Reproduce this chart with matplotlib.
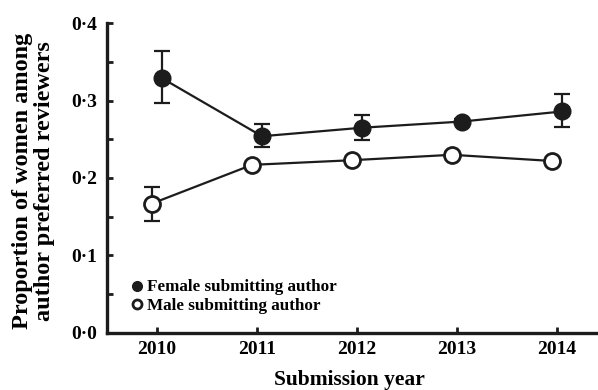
import matplotlib
matplotlib.use("Agg")
import matplotlib.pyplot as plt
from matplotlib.lines import Line2D
from matplotlib.ticker import FuncFormatter, MultipleLocator

# proportions of women among preferred reviewers, by submitting author gender
years = [2010, 2011, 2012, 2013, 2014]
female = [0.329, 0.254, 0.265, 0.273, 0.286]
female_lo = [0.297, 0.240, 0.249, 0.270, 0.266]
female_hi = [0.364, 0.270, 0.281, 0.276, 0.308]
male = [0.167, 0.217, 0.223, 0.230, 0.222]
male_lo = [0.145, 0.214, 0.220, 0.227, 0.219]
male_hi = [0.189, 0.220, 0.226, 0.233, 0.225]

plt.rcParams['font.family'] = ['Liberation Serif', 'DejaVu Serif']
plt.rcParams['font.weight'] = 'bold'
ink = '#1c1c1c'

fig = plt.figure(figsize=(5.98, 3.90), dpi=100)
ax = fig.add_axes([107 / 598, 57.3 / 390, 491 / 598, 309.4 / 390])

dx = 0.05
xf = [y + dx for y in years]
xm = [y - dx for y in years]

# error bars sit under the markers
ax.errorbar(xf, female,
            yerr=[[f - lo for f, lo in zip(female, female_lo)],
                  [hi - f for f, hi in zip(female, female_hi)]],
            fmt='none', ecolor=ink, elinewidth=1.6, capsize=5.8, capthick=1.6, zorder=2)
ax.errorbar(xm, male,
            yerr=[[m - lo for m, lo in zip(male, male_lo)],
                  [hi - m for m, hi in zip(male, male_hi)]],
            fmt='none', ecolor=ink, elinewidth=1.6, capsize=5.8, capthick=1.6, zorder=2)

ax.plot(xf, female, '-o', color=ink, lw=1.6, ms=12, mfc=ink, mec=ink, zorder=3)
ax.plot(xm, male, '-o', color=ink, lw=1.6, ms=11.5, mfc='white', mec=ink, mew=2.0, zorder=3)

ax.set_xlim(2009.5, 2014.41)
ax.set_ylim(0, 0.4)
ax.set_xticks(years)
ax.yaxis.set_major_locator(MultipleLocator(0.1))
ax.yaxis.set_minor_locator(MultipleLocator(0.05))
ax.yaxis.set_major_formatter(FuncFormatter(lambda v, p: f"{v:.1f}".replace('.', '\u00b7')))

for s in ['top', 'right']:
    ax.spines[s].set_visible(False)
for s in ['left', 'bottom']:
    ax.spines[s].set_linewidth(2.4)
    ax.spines[s].set_color(ink)
    ax.spines[s].set_capstyle('projecting')

ax.tick_params(which='both', direction='in', length=4.5, width=2.0, color=ink)
ax.tick_params(axis='y', labelsize=14, pad=7)
ax.tick_params(axis='x', labelsize=14, pad=6)
for lab in ax.get_xticklabels() + ax.get_yticklabels():
    lab.set_fontweight('bold')

ax.set_ylabel('Proportion of women among\nauthor preferred reviewers',
              fontsize=17.5, fontweight='bold', linespacing=1.1, va='center')
ax.yaxis.set_label_coords(-0.15, 0.49)
ax.set_xlabel('Submission year', fontsize=15.5, fontweight='bold', va='center')
ax.xaxis.set_label_coords(0.493, -0.154)

handles = [
    Line2D([], [], ls='none', marker='o', ms=7, mfc=ink, mec=ink),
    Line2D([], [], ls='none', marker='o', ms=6.5, mfc='white', mec=ink, mew=2.0),
]
ax.legend(handles, ['Female submitting author', 'Male submitting author'],
          loc='upper left', bbox_to_anchor=(0.051, 0.172), frameon=False,
          handlelength=0.6, handletextpad=0.3, labelspacing=0.15,
          borderaxespad=0, borderpad=0, prop={'size': 12.3, 'weight': 'bold'})

fig.savefig('out.png', dpi=100)
